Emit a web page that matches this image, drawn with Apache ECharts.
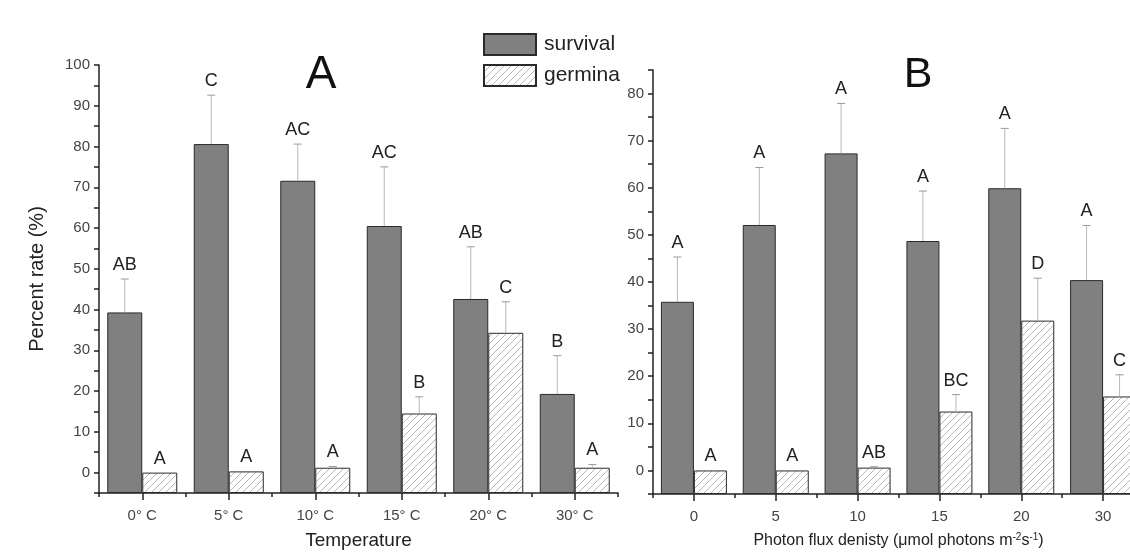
<!DOCTYPE html>
<html>
<head>
<meta charset="utf-8">
<script src="https://cdn.jsdelivr.net/npm/echarts@6/dist/echarts.min.js"></script>
<style>
html,body{margin:0;padding:0;background:#fff;}
#chart{width:1130px;height:553px;}
</style>
</head>
<body>
<div id="chart"></div>
<script>
// ---------- Panel A : temperature ----------
const tempCategories = ['0° C', '5° C', '10° C', '15° C', '20° C', '30° C'];
const tempSurvival = [39.3, 80.6, 71.6, 60.5, 42.6, 19.3];
const tempSurvivalErr = [8.2, 12.0, 9.0, 14.5, 12.8, 9.4];
const tempSurvivalLetters = ['AB', 'C', 'AC', 'AC', 'AB', 'B'];
const tempGermina = [0, 0.3, 1.2, 14.5, 34.3, 1.2];
const tempGerminaErr = [0, 0, 0.3, 4.1, 7.6, 0.8];
const tempGerminaLetters = ['A', 'A', 'A', 'B', 'C', 'A'];

// ---------- Panel B : photon flux density ----------
const lightCategories = ['0', '5', '10', '15', '20', '30'];
const lightSurvival = [35.8, 52.1, 67.3, 48.7, 59.9, 40.4];
const lightSurvivalErr = [9.5, 12.2, 10.6, 10.6, 12.7, 11.6];
const lightSurvivalLetters = ['A', 'A', 'A', 'A', 'A', 'A'];
const lightGermina = [0, 0, 0.6, 12.5, 31.8, 15.7];
const lightGerminaErr = [0, 0, 0.2, 3.6, 9.0, 4.6];
const lightGerminaLetters = ['A', 'A', 'AB', 'BC', 'D', 'C'];

// axis tick labels
const tempYTicks = [0, 10, 20, 30, 40, 50, 60, 70, 80, 90, 100];
const lightYTicks = [0, 10, 20, 30, 40, 50, 60, 70, 80];

const FONT = 'Liberation Sans, Arial, sans-serif';
const AXIS_COLOR = '#222';

function makeHatch() {
  const s = 7;
  const c = document.createElement('canvas');
  c.width = s; c.height = s;
  const g = c.getContext('2d');
  g.fillStyle = '#ffffff';
  g.fillRect(0, 0, s, s);
  g.strokeStyle = '#b8b8b8';
  g.lineWidth = 1;
  g.beginPath();
  g.moveTo(0, s); g.lineTo(s, 0);
  g.moveTo(-1, 1); g.lineTo(1, -1);
  g.moveTo(s - 1, s + 1); g.lineTo(s + 1, s - 1);
  g.stroke();
  return c;
}
const hatch = { image: makeHatch(), repeat: 'repeat' };

function errSeries(xi, yi, means, errs, letters, offset) {
  return {
    type: 'custom',
    xAxisIndex: xi,
    yAxisIndex: yi,
    z: 5,
    silent: true,
    data: means.map((m, i) => [i, m, m + errs[i]]),
    renderItem: function (params, api) {
      const i = api.value(0);
      const base = api.coord([i, api.value(1)]);
      const top = api.coord([i, api.value(2)]);
      const x = base[0] + offset;
      const children = [];
      if (api.value(2) > api.value(1)) {
        children.push({ type: 'line', shape: { x1: x, y1: base[1], x2: x, y2: top[1] },
          style: { stroke: '#b8b8b8', lineWidth: 1 } });
        children.push({ type: 'line', shape: { x1: x - 4, y1: top[1], x2: x + 4, y2: top[1] },
          style: { stroke: '#9a9a9a', lineWidth: 1 } });
      }
      children.push({ type: 'text', x: x, y: top[1] - 5,
        style: { text: letters[params.dataIndex], fill: '#222', fontSize: 18, fontFamily: FONT,
          align: 'center', verticalAlign: 'bottom' } });
      return { type: 'group', children: children };
    }
  };
}

function yAxisDef(gi, max, ticks, name) {
  return {
    type: 'value', gridIndex: gi, min: -5, max: max, interval: 5, startValue: -5,
    axisLine: { show: true, lineStyle: { color: AXIS_COLOR, width: 1.5 } },
    axisTick: { show: true, length: 5, lineStyle: { color: AXIS_COLOR, width: 1.5 } },
    axisLabel: { formatter: v => (ticks.indexOf(v) >= 0 ? String(v) : ''),
      fontSize: 15, color: '#444', margin: 9, fontFamily: FONT },
    splitLine: { show: false },
    name: name, nameLocation: 'middle', nameGap: 52,
    nameTextStyle: { fontSize: 20, color: '#222', fontFamily: FONT }
  };
}

function xAxisMain(gi, cats, name, nameSize, rich) {
  return {
    type: 'category', gridIndex: gi, data: cats, position: 'bottom',
    axisLine: { show: true, onZero: false, lineStyle: { color: AXIS_COLOR, width: 1.5 } },
    axisTick: { show: true, alignWithLabel: true, length: 7, lineStyle: { color: AXIS_COLOR, width: 1.5 } },
    axisLabel: { fontSize: 15, color: '#444', margin: 15, fontFamily: FONT, interval: 0 },
    splitLine: { show: false },
    name: name, nameLocation: 'middle', nameGap: 38,
    nameTextStyle: Object.assign({ fontSize: nameSize, color: '#222', fontFamily: FONT }, rich ? { rich: rich } : {})
  };
}

function xAxisBound(gi, cats) {
  return {
    type: 'category', gridIndex: gi, data: cats, position: 'bottom',
    axisLine: { show: false, onZero: false },
    axisTick: { show: true, length: 4, lineStyle: { color: AXIS_COLOR, width: 1.5 } },
    axisLabel: { show: false },
    splitLine: { show: false }
  };
}

const supRich = {
  sup: { fontSize: 10, color: '#222', fontFamily: FONT, verticalAlign: 'top', padding: [0, 0, 8, 0] }
};

const survivalStyle = { color: '#808080', borderColor: '#2a2a2a', borderWidth: 1 };
const germinaStyle = { color: hatch, borderColor: '#2a2a2a', borderWidth: 1 };

const chart = echarts.init(document.getElementById('chart'), null, { renderer: 'canvas' });
chart.setOption({
  backgroundColor: '#ffffff',
  animation: false,
  grid: [
    { left: 99, top: 65, width: 519, height: 428, outerBoundsMode: 'none', containLabel: false },
    { left: 653, top: 70, width: 491, height: 424, outerBoundsMode: 'none', containLabel: false }
  ],
  legend: {
    data: ['survival', 'germina'],
    icon: 'rect',
    orient: 'vertical', left: 483, top: 33, padding: 0,
    itemWidth: 52, itemHeight: 21, itemGap: 8,
    textStyle: { fontSize: 21, color: '#222', fontFamily: FONT, padding: [0, 0, 0, 3] }
  },
  xAxis: [
    xAxisMain(0, tempCategories, 'Temperature', 19),
    xAxisBound(0, tempCategories),
    xAxisMain(1, lightCategories, 'Photon flux denisty (μmol photons m{sup|-2}s{sup|-1})', 16, supRich),
    xAxisBound(1, lightCategories)
  ],
  yAxis: [
    yAxisDef(0, 100, tempYTicks, 'Percent rate (%)'),
    yAxisDef(1, 85, lightYTicks, '')
  ],
  graphic: [
    { type: 'text', x: 321, y: 75, style: { text: 'A', fontSize: 46, fill: '#111', fontFamily: FONT, align: 'center', verticalAlign: 'middle' } },
    { type: 'text', x: 918, y: 75, style: { text: 'B', fontSize: 43, fill: '#111', fontFamily: FONT, align: 'center', verticalAlign: 'middle' } }
  ],
  series: [
    { name: 'survival', type: 'bar', xAxisIndex: 0, yAxisIndex: 0, data: tempSurvival,
      barWidth: 35, barGap: '0%', itemStyle: survivalStyle },
    { name: 'germina', type: 'bar', xAxisIndex: 0, yAxisIndex: 0, data: tempGermina,
      barWidth: 35, barGap: '0%', itemStyle: germinaStyle },
    { name: 'survival', type: 'bar', xAxisIndex: 2, yAxisIndex: 1, data: lightSurvival,
      barWidth: 33, barGap: '0%', itemStyle: survivalStyle },
    { name: 'germina', type: 'bar', xAxisIndex: 2, yAxisIndex: 1, data: lightGermina,
      barWidth: 33, barGap: '0%', itemStyle: germinaStyle },
    errSeries(0, 0, tempSurvival, tempSurvivalErr, tempSurvivalLetters, -17.5),
    errSeries(0, 0, tempGermina, tempGerminaErr, tempGerminaLetters, 17.5),
    errSeries(2, 1, lightSurvival, lightSurvivalErr, lightSurvivalLetters, -16.5),
    errSeries(2, 1, lightGermina, lightGerminaErr, lightGerminaLetters, 16.5)
  ]
});
</script>
</body>
</html>
